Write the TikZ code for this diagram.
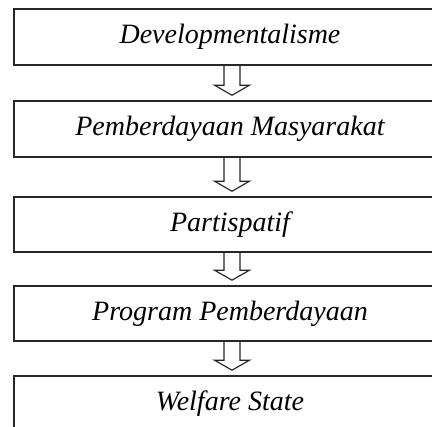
\documentclass[tikz,border=0pt]{standalone}
\usepackage{fontspec}
\setmainfont{Liberation Serif}
\usetikzlibrary{calc}

% hollow down arrow from the bottom of one box to the top of the next
\newcommand{\downstep}[2]{%
\draw[hollow] ($(#1.south)+(-6,0)$) -- ($(#2.north)+(-6,15)$) -- ++(-9.5,0)
  -- ($(#2.north)+(2,5)$) -- ($(#2.north)+(19.5,15)$) -- ++(-9.5,0)
  -- ($(#1.south)+(10,0)$);}

\begin{document}
\begin{tikzpicture}[x=1pt, y=1pt,
  stage/.style={draw=black!85, line width=1.6pt, minimum width=432pt,
    minimum height=56pt, inner sep=0pt,
    font=\fontsize{28}{32}\selectfont\itshape},
  hollow/.style={draw=black!85, line width=1.2pt, line join=miter}]
\useasboundingbox (0,0) rectangle (432,-427);
\clip (0,0) rectangle (432,-427);
\node[stage] (dev) at (230,-37) {Developmentalisme};
\node[stage] (pm) at (230,-129) {Pemberdayaan Masyarakat};
\node[stage, minimum height=55pt] (part) at (230,-224.5) {Partispatif};
\node[stage, minimum height=55pt] (prog) at (230,-313.5) {Program Pemberdayaan};
\node[stage, minimum height=55pt] (ws) at (230,-403.5) {Welfare State};
\downstep{dev}{pm}
\downstep{pm}{part}
\downstep{part}{prog}
\downstep{prog}{ws}
\end{tikzpicture}
\end{document}
